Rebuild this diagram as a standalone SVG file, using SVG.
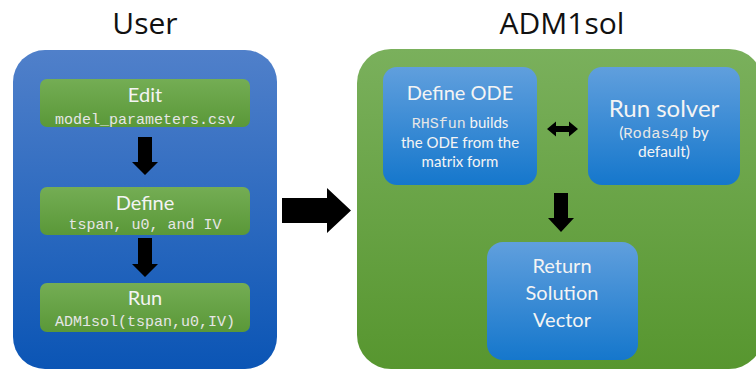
<svg xmlns="http://www.w3.org/2000/svg" width="756" height="371" viewBox="0 0 756 371">
<defs>
<linearGradient id="gBlueBig" x1="0" y1="0" x2="0" y2="1"><stop offset="0" stop-color="#5080ca"/><stop offset="1" stop-color="#0b55b5"/></linearGradient>
<linearGradient id="gGreenBig" x1="0" y1="0" x2="0" y2="1"><stop offset="0" stop-color="#7ab05c"/><stop offset="1" stop-color="#57962f"/></linearGradient>
<linearGradient id="gGreenBox" x1="0" y1="0" x2="0" y2="1"><stop offset="0" stop-color="#74ad54"/><stop offset="1" stop-color="#5a9838"/></linearGradient>
<linearGradient id="gBlueBox" x1="0" y1="0" x2="0" y2="1"><stop offset="0" stop-color="#609fdd"/><stop offset="1" stop-color="#1577cc"/></linearGradient>
</defs>
<style>
.title{font-family:"Open Sans","DejaVu Sans",sans-serif;font-size:30px;fill:#111;text-anchor:middle}
.lbl{font-family:Lato,"Open Sans",sans-serif;fill:#f4f4f4;text-anchor:middle}
.mono{font-family:"Liberation Mono","Courier New",monospace;fill:#e6e6e6;text-anchor:middle}
.arrow{fill:#000}
</style>
<text class="title" x="145" y="34">User</text>
<text class="title" x="562" y="34">ADM1sol</text>
<g id="user">
<rect x="13" y="50" width="264" height="319" rx="32" fill="url(#gBlueBig)"/>
</g>
<g id="adm1sol">
<rect x="357" y="49" width="406" height="320" rx="34" fill="url(#gGreenBig)"/>
</g>
<g id="edit">
<rect x="40" y="79" width="210" height="48" rx="7" fill="url(#gGreenBox)"/>
<text class="lbl" x="145" y="102" font-size="20">Edit</text>
<text class="mono" x="145" y="124" font-size="15">model_parameters.csv</text>
</g>
<g id="define">
<rect x="40" y="187" width="210" height="48" rx="7" fill="url(#gGreenBox)"/>
<text class="lbl" x="145" y="210" font-size="20">Define</text>
<text class="mono" x="145" y="229" font-size="15">tspan, u0, and IV</text>
</g>
<g id="run">
<rect x="40" y="283" width="210" height="49" rx="7" fill="url(#gGreenBox)"/>
<text class="lbl" x="145" y="305" font-size="20">Run</text>
<text class="mono" x="145" y="326" font-size="15">ADM1sol(tspan,u0,IV)</text>
</g>
<g id="defineode">
<rect x="383" y="67" width="154" height="118" rx="14" fill="url(#gBlueBox)"/>
<text class="lbl" x="460" y="100" font-size="20">Define ODE</text>
<text class="lbl" x="460" y="128" font-size="15"><tspan class="mono" font-size="15">RHSfun</tspan> builds</text>
<text class="lbl" x="460" y="148" font-size="15">the ODE from the</text>
<text class="lbl" x="460" y="167" font-size="15">matrix form</text>
</g>
<g id="runsolver">
<rect x="588" y="67" width="152" height="118" rx="14" fill="url(#gBlueBox)"/>
<text class="lbl" x="664" y="117" font-size="24">Run solver</text>
<text class="lbl" x="664" y="138" font-size="15.5">(<tspan class="mono" font-size="15.5">Rodas4p</tspan> by</text>
<text class="lbl" x="664" y="157" font-size="15.5">default)</text>
</g>
<g id="return">
<rect x="487" y="242" width="151" height="118" rx="16" fill="url(#gBlueBox)"/>
<text class="lbl" x="562" y="273" font-size="20">Return</text>
<text class="lbl" x="562" y="300" font-size="20">Solution</text>
<text class="lbl" x="562" y="327" font-size="20">Vector</text>
</g>
<g id="connectors">
<polygon class="arrow" points="138,137 152,137 152,162 158,162 145,175 132,162 138,162"/>
<polygon class="arrow" points="138,238 152,238 152,264 158,264 145,277 132,264 138,264"/>
<polygon class="arrow" points="282,198 327,198 327,188 351,210.5 327,233 327,223 282,223"/>
<polygon class="arrow" points="554,193 568,193 568,218 574,218 561,232 548,218 554,218"/>
<polygon class="arrow" points="547,129 556,121.5 556,126 569,126 569,121.5 578,129 569,136.5 569,132 556,132 556,136.5"/>
</g>
</svg>
